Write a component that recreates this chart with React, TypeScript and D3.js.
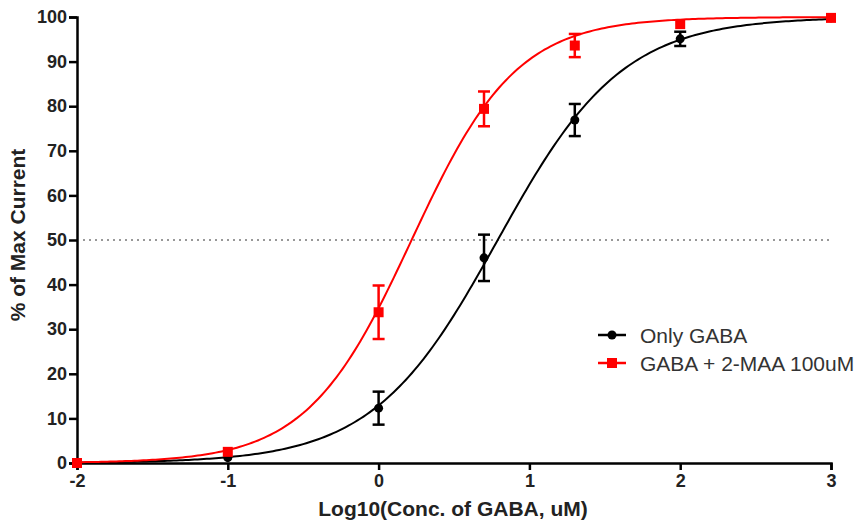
import * as d3 from "d3";
import { useEffect, useRef } from "react";

// log10 of GABA concentration (uM)
const logConc = [-2, -1, 0, 0.699, 1.301, 2, 3];

// Only GABA
const onlyMean = [0, 1.2, 12.3, 46.0, 76.9, 95.1, 99.8];
const onlyErr = [0, 0, 3.7, 5.2, 3.6, 1.6, 0];

// GABA + 2-MAA 100uM
const maaMean = [0, 2.5, 33.8, 79.4, 93.6, 98.4, 99.8];
const maaErr = [0, 0, 6.0, 3.9, 2.6, 0, 0];

// fitted Hill parameters: [logEC50, hill slope]
const onlyFit = [0.79, 1.05];
const maaFit = [0.219, 1.25];

const xTicks = [-2, -1, 0, 1, 2, 3];
const yTicks = [0, 10, 20, 30, 40, 50, 60, 70, 80, 90, 100];

const legendLabels = ["Only GABA", "GABA + 2-MAA 100uM"];

const W = 859;
const H = 522;
const FONT = "'Liberation Sans', Arial, sans-serif";

export default function App() {
    const ref = useRef<SVGSVGElement | null>(null);

    useEffect(() => {
        if (!ref.current) return;
        const svg = d3.select(ref.current);
        svg.selectAll("*").remove();

        const x = d3.scaleLinear().domain([-2, 3]).range([77, 831]);
        const y = d3.scaleLinear().domain([0, 100]).range([463, 17]);

        const g = svg.append("g").attr("font-family", FONT);

        // dotted 50% line
        g.append("line")
            .attr("x1", x(-2) + 6)
            .attr("x2", x(3))
            .attr("y1", y(50))
            .attr("y2", y(50))
            .attr("stroke", "#333")
            .attr("stroke-width", 1)
            .attr("stroke-dasharray", "2,4");

        // axes
        const yAxis = g.append("g")
            .attr("transform", `translate(${x(-2)},0)`)
            .call(d3.axisLeft(y).tickValues(yTicks).tickSize(8).tickPadding(2));
        const xAxis = g.append("g")
            .attr("transform", `translate(0,${y(0)})`)
            .call(d3.axisBottom(x).tickValues(xTicks).tickSize(7).tickPadding(4));

        [yAxis, xAxis].forEach(ax => {
            ax.select(".domain").attr("stroke", "#000").attr("stroke-width", 2.5);
            ax.selectAll(".tick line").attr("stroke", "#000").attr("stroke-width", 2.5);
            ax.selectAll(".tick text")
                .attr("font-family", FONT)
                .attr("font-size", 18)
                .attr("font-weight", "bold")
                .attr("fill", "#222");
        });
        // plain hyphen for negatives, like the reference
        xAxis.selectAll(".tick text").text(d => String(d));

        // axis titles
        g.append("text")
            .attr("x", 453)
            .attr("y", 516)
            .attr("text-anchor", "middle")
            .attr("font-size", 21)
            .attr("font-weight", "bold")
            .attr("fill", "#222")
            .text("Log10(Conc. of GABA, uM)");

        g.append("text")
            .attr("transform", `translate(25,235) rotate(-90)`)
            .attr("text-anchor", "middle")
            .attr("font-size", 21)
            .attr("font-weight", "bold")
            .attr("fill", "#222")
            .text("% of Max Current");

        const hill = (fit: number[]) => (lx: number) =>
            100 / (1 + Math.pow(10, (fit[0] - lx) * fit[1]));

        const curveXs = d3.range(-2, 3.0001, 0.02);

        const series = [
            { mean: onlyMean, err: onlyErr, fit: onlyFit, color: "#000", shape: "circle" },
            { mean: maaMean, err: maaErr, fit: maaFit, color: "#ff0000", shape: "square" },
        ];

        series.forEach(s => {
            const f = hill(s.fit);
            const line = d3.line<number>().x(d => x(d)).y(d => y(f(d)));
            g.append("path")
                .attr("d", line(curveXs) ?? "")
                .attr("fill", "none")
                .attr("stroke", s.color)
                .attr("stroke-width", 2);
        });

        series.forEach(s => {
            const pts = g.append("g");
            logConc.forEach((lx, i) => {
                const e = s.err[i];
                const cx = x(lx);
                if (e > 0) {
                    pts.append("line")
                        .attr("x1", cx).attr("x2", cx)
                        .attr("y1", y(s.mean[i] + e)).attr("y2", y(s.mean[i] - e))
                        .attr("stroke", s.color).attr("stroke-width", 2.5);
                    [s.mean[i] + e, s.mean[i] - e].forEach(v => {
                        pts.append("line")
                            .attr("x1", cx - 6).attr("x2", cx + 6)
                            .attr("y1", y(v)).attr("y2", y(v))
                            .attr("stroke", s.color).attr("stroke-width", 2.5);
                    });
                }
                if (s.shape === "circle") {
                    pts.append("circle")
                        .attr("cx", cx).attr("cy", y(s.mean[i]))
                        .attr("r", 4.5).attr("fill", s.color);
                } else {
                    pts.append("rect")
                        .attr("x", cx - 5).attr("y", y(s.mean[i]) - 5)
                        .attr("width", 10).attr("height", 10)
                        .attr("fill", s.color);
                }
            });
        });

        // legend
        const lg = g.append("g").attr("transform", "translate(598,335)");
        series.forEach((s, i) => {
            const row = lg.append("g").attr("transform", `translate(0,${i * 28})`);
            row.append("line")
                .attr("x1", 0).attr("x2", 28)
                .attr("stroke", s.color).attr("stroke-width", 2.5);
            if (s.shape === "circle") {
                row.append("circle").attr("cx", 14).attr("r", 4.5).attr("fill", s.color);
            } else {
                row.append("rect").attr("x", 9).attr("y", -5).attr("width", 10).attr("height", 10).attr("fill", s.color);
            }
            row.append("text")
                .attr("x", 42)
                .attr("y", 0)
                .attr("dy", "0.36em")
                .attr("font-size", 21)
                .attr("fill", "#333")
                .text(legendLabels[i]);
        });
    }, []);

    return (
        <svg
            ref={ref}
            width={W}
            height={H}
            style={{ position: "absolute", left: 0, top: 0, background: "#fff" }}
        />
    );
}
